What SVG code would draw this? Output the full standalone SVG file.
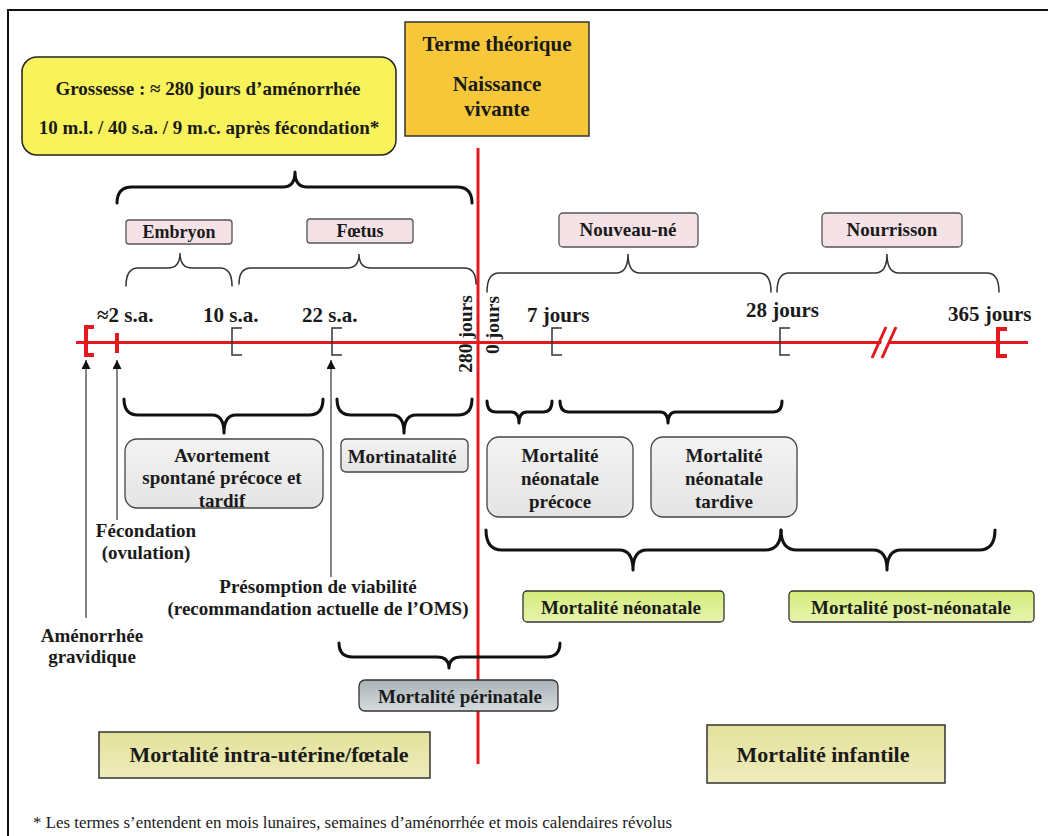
<svg xmlns="http://www.w3.org/2000/svg" width="1048" height="836" viewBox="0 0 1048 836" font-family="'Liberation Serif', 'DejaVu Serif', serif">
<style>
text{font-family:'Liberation Serif','DejaVu Serif',serif;font-weight:bold;fill:#1a1a1a}
.c{text-anchor:middle}
.s19{font-size:19px}
.s21{font-size:21px}
.s22{font-size:22px}
.brace{fill:none;stroke:#111;stroke-width:3;stroke-linecap:round;stroke-linejoin:round}
.tbrace{fill:none;stroke:#333;stroke-width:1.5;stroke-linecap:round}
.red{stroke:#e3191f;fill:none}
.tick{stroke:#333;stroke-width:1.5;fill:none}
.arrow{stroke:#444;stroke-width:1.3;fill:none}
.pink{fill:#f4e2e6;stroke:#555;stroke-width:1.3}
.gray{fill:url(#gGray);stroke:#444;stroke-width:1.3}
.green{fill:url(#gGreen);stroke:#333;stroke-width:1.3}
.khaki{fill:url(#gKhaki);stroke:#333;stroke-width:1.5}
</style>
<defs>
<linearGradient id="gGray" x1="0" y1="0" x2="0" y2="1"><stop offset="0" stop-color="#f3f3f3"/><stop offset="1" stop-color="#e4e4e4"/></linearGradient>
<linearGradient id="gGreen" x1="0" y1="0" x2="0" y2="1"><stop offset="0" stop-color="#d3ec78"/><stop offset="1" stop-color="#e7f4ae"/></linearGradient>
<linearGradient id="gKhaki" x1="0" y1="0" x2="0" y2="1"><stop offset="0" stop-color="#e3e19b"/><stop offset="1" stop-color="#eeecbb"/></linearGradient>
<linearGradient id="gPeri" x1="0" y1="0" x2="0" y2="1"><stop offset="0" stop-color="#a9b2b6"/><stop offset="1" stop-color="#d6dcde"/></linearGradient>
<marker id="ah" viewBox="0 0 10 10" refX="10" refY="5" markerWidth="10" markerHeight="9" markerUnits="userSpaceOnUse" orient="auto">
<path d="M0,0 L10,5 L0,10 Z" fill="#111"/>
</marker>
</defs>

<rect x="8" y="10" width="1100" height="900" fill="#fff" stroke="#111" stroke-width="2"/>

<g id="connectors">
<line class="red" x1="478" y1="148" x2="478" y2="764" stroke-width="3"/>
<line class="red" x1="76" y1="342.5" x2="1028" y2="342.5" stroke-width="3"/>
<path class="red" d="M94,327 H86 V355 H94" stroke-width="4"/>
<line class="red" x1="117" y1="333" x2="117" y2="353" stroke-width="4"/>
<path class="red" d="M1007,329 H998 V356 H1007" stroke-width="4"/>
<polygon points="876,358 883,358 894,327 887,327" fill="#fff"/>
<line class="red" x1="872" y1="358" x2="886" y2="327" stroke-width="3"/>
<line class="red" x1="882" y1="358" x2="896" y2="327" stroke-width="3"/>
<path class="tick" d="M242,328 H232 V355 H242"/>
<path class="tick" d="M342,328 H332 V355 H342"/>
<path class="tick" d="M562,328 H552 V355 H562"/>
<path class="tick" d="M790,328 H780 V355 H790"/>
<line class="arrow" x1="86" y1="618" x2="86" y2="360" marker-end="url(#ah)"/>
<line class="arrow" x1="117" y1="520" x2="117" y2="360" marker-end="url(#ah)"/>
<line class="arrow" x1="331" y1="577" x2="331" y2="360" marker-end="url(#ah)"/>
<path class="brace" d="M117,203 Q117,187 132,187 L283,187 Q295,187 295,172 Q295,187 307,187 L457,187 Q472,187 472,203"/>
<path class="tbrace" d="M126,286 Q126,268 138,268 L168,268 Q180,268 180,253 Q180,268 192,268 L220,268 Q232,268 232,286"/>
<path class="tbrace" d="M239,284 Q239,268 251,268 L347,268 Q359,268 359,254 Q359,268 371,268 L464,268 Q476,268 476,284"/>
<path class="tbrace" d="M487,292 Q487,273 499,273 L616,273 Q628,273 628,254 Q628,273 640,273 L759,273 Q771,273 771,292"/>
<path class="tbrace" d="M777,292 Q777,273 789,273 L875,273 Q887,273 887,254 Q887,273 899,273 L987,273 Q999,273 999,292"/>
<path class="brace" d="M124,399 Q124,415 138,415 L212,415 Q224,415 224,433 Q224,415 236,415 L309,415 Q323,415 323,399"/>
<path class="brace" d="M337,399 Q337,415 351,415 L392,415 Q404,415 404,433 Q404,415 416,415 L458,415 Q472,415 472,399"/>
<path class="brace" d="M487,401 Q487,412 496,412 L511,412 Q519,412 519,423 Q519,412 527,412 L543,412 Q552,412 552,401"/>
<path class="brace" d="M560,401 Q560,412 569,412 L660,412 Q668,412 668,423 Q668,412 676,412 L773,412 Q782,412 782,401"/>
<path class="brace" d="M486,530 Q486,550 502,550 L619,550 Q633,550 633,570 Q633,550 647,550 L765,550 Q781,550 781,530"/>
<path class="brace" d="M781,530 Q781,550 797,550 L873,550 Q887,550 887,570 Q887,550 901,550 L979,550 Q995,550 995,530"/>
<path class="brace" d="M339,643 Q339,657 353,657 L437,657 Q449,657 449,668 Q449,657 461,657 L546,657 Q560,657 560,643"/>
</g>

<g id="grossesse">
<rect x="22" y="57" width="374" height="98" rx="15" fill="#f8f35b" stroke="#222" stroke-width="1.5"/>
<text class="c s19" x="208" y="95">Grossesse : ≈ 280 jours d’aménorrhée</text>
<text class="c s19" x="209" y="134">10 m.l. / 40 s.a. / 9 m.c. après fécondation*</text>
</g>

<g id="terme">
<rect x="405" y="22" width="184" height="114" fill="#f6c739" stroke="#333" stroke-width="1.5"/>
<text class="c s21" x="497" y="51">Terme théorique</text>
<text class="c s21" x="497" y="91">Naissance</text>
<text class="c s21" x="497" y="116">vivante</text>
</g>

<g id="embryon"><rect class="pink" x="126" y="220" width="106" height="24" rx="3"/><text class="c" style="font-size:18px" x="179" y="238">Embryon</text></g>
<g id="foetus"><rect class="pink" x="307" y="219" width="106" height="24" rx="3"/><text class="c" style="font-size:18px" x="360" y="237">Fœtus</text></g>
<g id="nouveau-ne"><rect class="pink" x="559" y="213" width="139" height="34" rx="4"/><text class="c s19" x="628" y="236">Nouveau-né</text></g>
<g id="nourrisson"><rect class="pink" x="822" y="213" width="140" height="34" rx="4"/><text class="c s19" x="892" y="236">Nourrisson</text></g>

<g id="timeline-labels">
<text class="s21" x="97" y="322">≈2 s.a.</text>
<text class="s21" x="203" y="322">10 s.a.</text>
<text class="s21" x="302" y="322">22 s.a.</text>
<text class="s21" x="527" y="322">7 jours</text>
<text class="s21" x="746" y="317">28 jours</text>
<text class="s21" x="948" y="321">365 jours</text>
<text class="c" style="font-size:19.5px" transform="translate(472,334) rotate(-90)">280 jours</text>
<text class="c" style="font-size:19.5px" transform="translate(499,325) rotate(-90)">0 jours</text>
</g>

<g id="avortement"><rect class="gray" x="125" y="439" width="198" height="69" rx="12"/>
<text class="c s19" x="222" y="462">Avortement</text>
<text class="c s19" x="222" y="484">spontané précoce et</text>
<text class="c s19" x="222" y="507">tardif</text></g>
<g id="mortinatalite"><rect class="gray" x="341" y="439" width="127" height="33" rx="5"/><text class="c s19" x="402" y="463">Mortinatalité</text></g>
<g id="neonatale-precoce"><rect class="gray" x="487" y="437" width="146" height="80" rx="12"/>
<text class="c s19" x="560" y="462">Mortalité</text>
<text class="c s19" x="560" y="485">néonatale</text>
<text class="c s19" x="560" y="508">précoce</text></g>
<g id="neonatale-tardive"><rect class="gray" x="651" y="437" width="146" height="80" rx="12"/>
<text class="c s19" x="724" y="462">Mortalité</text>
<text class="c s19" x="724" y="485">néonatale</text>
<text class="c s19" x="724" y="508">tardive</text></g>

<g id="fecondation"><text class="c s19" x="146" y="537">Fécondation</text><text class="c s19" x="146" y="559">(ovulation)</text></g>
<g id="viabilite"><text class="c s19" x="318" y="593">Présomption de viabilité</text><text class="c s19" x="318" y="615">(recommandation actuelle de l’OMS)</text></g>
<g id="amenorrhee"><text class="c s19" x="92" y="642">Aménorrhée</text><text class="c s19" x="92" y="663">gravidique</text></g>

<g id="mortalite-neonatale"><rect class="green" x="523" y="591" width="201" height="31" rx="4"/><text class="c s19" x="621" y="614">Mortalité néonatale</text></g>
<g id="mortalite-post-neonatale"><rect class="green" x="789" y="591" width="245" height="31" rx="4"/><text class="c s19" x="911" y="614">Mortalité post-néonatale</text></g>
<g id="mortalite-perinatale"><rect x="359" y="680" width="199" height="31" rx="6" fill="url(#gPeri)" stroke="#333" stroke-width="1.3"/><text class="c s19" x="460" y="703">Mortalité périnatale</text></g>

<g id="mortalite-intra-uterine"><rect class="khaki" x="99" y="732" width="331" height="46"/><text class="c s22" x="269" y="762">Mortalité intra-utérine/fœtale</text></g>
<g id="mortalite-infantile"><rect class="khaki" x="707" y="725" width="238" height="58"/><text class="c s22" x="823" y="762">Mortalité infantile</text></g>

<text x="33" y="828" textLength="639" lengthAdjust="spacingAndGlyphs" style="font-weight:normal;font-size:16.5px">* Les termes s’entendent en mois lunaires, semaines d’aménorrhée et mois calendaires  révolus</text>
</svg>
